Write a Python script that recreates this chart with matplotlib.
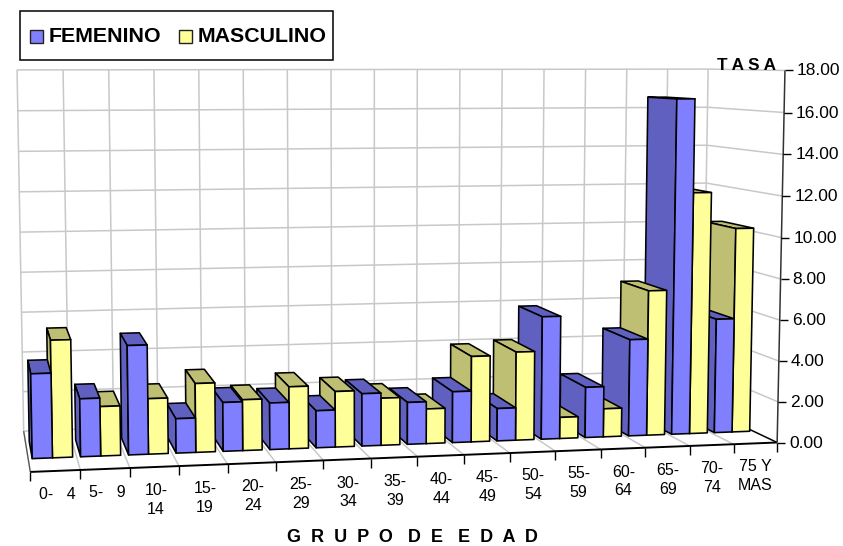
import numpy as np
import matplotlib
matplotlib.use("Agg")
import matplotlib.pyplot as plt
from matplotlib.patches import Polygon, Rectangle

plt.rcParams['font.family'] = ['Liberation Sans', 'DejaVu Sans']

# ---- data ----
categories = ["0-   4", "5-   9", "10-\n14", "15-\n19", "20-\n24", "25-\n29", "30-\n34", "35-\n39",
              "40-\n44", "45-\n49", "50-\n54", "55-\n59", "60-\n64", "65-\n69", "70-\n74", "75 Y\nMAS"]
femenino = [4.0, 2.75, 5.2, 1.65, 2.35, 2.25, 1.8, 2.55, 2.05, 2.5, 1.6, 6.05, 2.5, 4.8, 16.6, 5.7]
masculino = [5.55, 2.35, 2.65, 3.3, 2.45, 3.0, 2.7, 2.3, 1.7, 4.2, 4.35, 1.05, 1.4, 7.2, 12.0, 10.2]
y_ticks = [0, 2, 4, 6, 8, 10, 12, 14, 16, 18]
series_names = ["FEMENINO", "MASCULINO"]

# ---- styling ----
FEM = ("#8080FF", "#6060C0")
MAS = ("#FFFF99", "#BFBF73")
GRID = "#C8C8C8"
Z_FRONT, Z_BACK = 0.30, 0.72
GAP = 0.083

# ---- camera fitted to the 3-D box and bar corners: (slot, value, depth) -> pixel ----
world = [(0, 0, 0), (16, 0, 0), (16, 18, 0), (0, 0, 1), (0, 18, 1), (16, 18, 1), (16, 0, 1),
         (GAP, 0, Z_FRONT), (16 - GAP, 0, Z_FRONT),
         (14 + GAP, 16.6, Z_BACK), (15.5, 10.2, Z_BACK), (2 + GAP, 5.2, Z_BACK), (14.5, 16.6, Z_FRONT)]
pixel = [(30, 473), (777, 441), (785, 71), (24, 430), (17, 70), (708, 69), (701, 411),
         (32, 460), (753, 430),
         (647.7, 93), (713, 218), (120.7, 332.7), (693, 97)]
weights = [3, 3, 4, 3, 4, 4, 2, 1, 1, 1, 1, 1, 1]
A, b = [], []
for (X, Y, Z), (u, v), w in zip(world, pixel, weights):
    A.append([w * c for c in (X, Y, Z, 1, 0, 0, 0, 0, -u * X, -u * Y, -u * Z)]); b.append(w * u)
    A.append([w * c for c in (0, 0, 0, 0, X, Y, Z, 1, -v * X, -v * Y, -v * Z)]); b.append(w * v)
p = np.linalg.lstsq(np.array(A, float), np.array(b, float), rcond=None)[0]
P = np.append(p, 1.0).reshape(3, 4)


def proj(X, Y, Z):
    h = P @ np.array([X, Y, Z, 1.0])
    return h[0] / h[2], h[1] / h[2]


W, H = 843, 546
fig = plt.figure(figsize=(W / 100, H / 100), dpi=100)
ax = fig.add_axes([0, 0, 1, 1])
ax.set_xlim(0, W)
ax.set_ylim(H, 0)
ax.axis("off")


def line(a, b, color=GRID, lw=1.1, z=1):
    pa, pb = proj(*a), proj(*b)
    ax.plot([pa[0], pb[0]], [pa[1], pb[1]], color=color, lw=lw, zorder=z, solid_capstyle="butt")


n = len(categories)
# walls and floor grid
for i in range(n + 1):
    line((i, 0, 1), (i, y_ticks[-1], 1))
    line((i, 0, 1), (i, 0, 0))
for v in y_ticks:
    line((0, v, 1), (n, v, 1))
    line((n, v, 1), (n, v, 0))
line((0, 0, 1), (0, 0, 0), color="#555555", lw=0.9, z=2)
line((n, 0, 1), (n, 0, 0), color="black", lw=1.0, z=2)
line((0, 0, 0), (n, 0, 0), color="black", lw=1.4, z=2)
line((n, 0, 0), (n, y_ticks[-1], 0), color="#333333", lw=1.1, z=2)


def bar(x0, x1, v, cols, z):
    front = [proj(x0, 0, Z_FRONT), proj(x1, 0, Z_FRONT), proj(x1, v, Z_FRONT), proj(x0, v, Z_FRONT)]
    left = [proj(x0, 0, Z_FRONT), proj(x0, v, Z_FRONT), proj(x0, v, Z_BACK), proj(x0, 0, Z_BACK)]
    top = [proj(x0, v, Z_FRONT), proj(x1, v, Z_FRONT), proj(x1, v, Z_BACK), proj(x0, v, Z_BACK)]
    for poly, col in ((top, cols[1]), (left, cols[1]), (front, cols[0])):
        ax.add_patch(Polygon(poly, closed=True, facecolor=col, edgecolor="black",
                             lw=1.15, joinstyle="round", zorder=z))


# painter's order: the camera sits to the left, so rightmost bars go first
z = 3.0
for i in range(n - 1, -1, -1):
    mid = i + 0.5
    bar(mid, i + 1 - GAP, masculino[i], MAS, z); z += 0.01
    bar(i + GAP, mid, femenino[i], FEM, z); z += 0.01

# category ticks and labels
for i in range(n + 1):
    px, py = proj(i, 0, 0)
    ax.plot([px, px], [py, py + 9], color="black", lw=1.0, zorder=2, solid_capstyle="butt")
for i, lab in enumerate(categories):
    px, py = proj(i + 0.5, 0, 0)
    ax.text(px + 2 * (1 - i / (n - 1)), py + 24 if "\n" not in lab else py + 33, lab, ha="center", va="center",
            fontsize=11.5, linespacing=1.32, color="black", zorder=20)

# value ticks and labels
for v in y_ticks:
    px, py = proj(n, v, 0)
    ax.plot([px, px + 8], [py, py], color="black", lw=1.0, zorder=2, solid_capstyle="butt")
    ax.text(px + 12, py + 0.5, f"{v:.2f}", ha="left", va="center", fontsize=12.5, color="black", zorder=20)

# titles
ax.text(746.5, 65.5, "T A S A", ha="center", va="center", fontsize=12.3, fontweight="bold", zorder=20)
ax.text(412, 537, "G  R  U  P  O   D  E   E  D  A  D", ha="center", va="center",
        fontsize=13, fontweight="bold", zorder=20)

# legend
ax.add_patch(Rectangle((19.5, 10.5), 313.5, 49.5, facecolor="white", edgecolor="black", lw=1.1, zorder=10))
for sx, col in ((29.5, FEM[0]), (178.5, MAS[0])):
    ax.add_patch(Rectangle((sx, 29.5), 13.5, 13.5, facecolor=col, edgecolor="#222222", lw=1.0, zorder=11))
ax.text(49, 36.5, series_names[0], ha="left", va="center", fontsize=15.4, fontweight="bold", zorder=11)
ax.text(198, 36.5, series_names[1], ha="left", va="center", fontsize=15.4, fontweight="bold", zorder=11)

fig.savefig("out.png", dpi=100, facecolor="white")
